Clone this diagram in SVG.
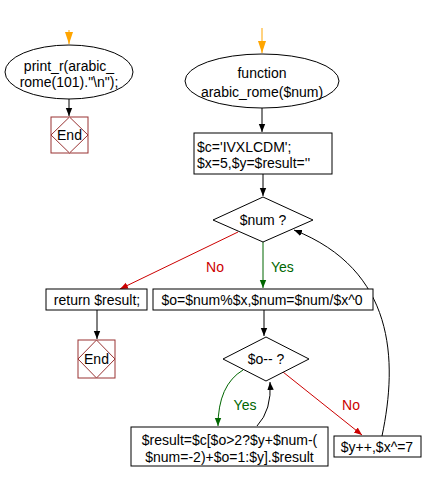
<svg xmlns="http://www.w3.org/2000/svg" width="422" height="481" viewBox="0 0 422 481">
<style>
.n{fill:#fff;stroke:#000;stroke-width:1}
.e{fill:#fff;stroke:#993333;stroke-width:1}
.t{font-family:"Liberation Sans",Arial,sans-serif;font-size:14px;fill:#000}
.m{text-anchor:middle}
.c{fill:none;stroke-width:1}
.k{stroke:#000}
.r{stroke:#CC0000}
.g{stroke:#006600}
.o{stroke:#FFA500}
.lr{fill:#CC0000}
.lg{fill:#006600}
</style>
<defs>
<marker id="ak" markerWidth="8" markerHeight="10" refX="10" refY="4" orient="auto" markerUnits="userSpaceOnUse" viewBox="0 0 10 8"><path d="M0,0 L10,4 L0,8 z" fill="#000"/></marker>
<marker id="ar" markerWidth="8" markerHeight="10" refX="10" refY="4" orient="auto" markerUnits="userSpaceOnUse" viewBox="0 0 10 8"><path d="M0,0 L10,4 L0,8 z" fill="#CC0000"/></marker>
<marker id="ag" markerWidth="8" markerHeight="10" refX="10" refY="4" orient="auto" markerUnits="userSpaceOnUse" viewBox="0 0 10 8"><path d="M0,0 L10,4 L0,8 z" fill="#006600"/></marker>
<marker id="ao" markerWidth="12" markerHeight="8" refX="12" refY="4" orient="auto" markerUnits="userSpaceOnUse" viewBox="0 0 12 8"><path d="M0,0 L12,4 L0,8 z" fill="#FFA500"/></marker>
</defs>
<g id="connectors">
<path class="c o" d="M69,30 L69,44" marker-end="url(#ao)"/>
<path class="c k" d="M69,99 L69,116" marker-end="url(#ak)"/>
<path class="c o" d="M262,28 L262,53" marker-end="url(#ao)"/>
<path class="c k" d="M262,108 L262,132" marker-end="url(#ak)"/>
<path class="c k" d="M263,174 L263,196" marker-end="url(#ak)"/>
<path class="c r" d="M238,232 L120,289" marker-end="url(#ar)"/>
<path class="c g" d="M263,242 L263,288" marker-end="url(#ag)"/>
<path class="c k" d="M97,310 L97,339" marker-end="url(#ak)"/>
<path class="c k" d="M264,310 L264,336" marker-end="url(#ak)"/>
<path class="c g" d="M243,370 Q218,385 218,426" marker-end="url(#ag)"/>
<path class="c k" d="M257,426 Q272,410 270,382" marker-end="url(#ak)"/>
<path class="c r" d="M283,372 L362,435" marker-end="url(#ar)"/>
<path class="c k" d="M382,436 C398,360 395,270 294,230" marker-end="url(#ak)"/>
<text class="t lr" x="215" y="272" text-anchor="middle">No</text>
<text class="t lg" x="271" y="272">Yes</text>
<text class="t lg" x="245" y="410" text-anchor="middle">Yes</text>
<text class="t lr" x="351" y="410" text-anchor="middle">No</text>
</g>
<g id="start1">
<ellipse class="n" cx="69" cy="72" rx="64" ry="27"/>
<text class="t m" x="69" y="71">print_r(arabic_</text>
<text class="t m" x="69" y="87">rome(101)."\n");</text>
</g>
<g id="end1">
<rect class="e" x="51" y="117" width="37" height="36"/>
<polygon class="e" points="69.5,117 88,135 69.5,153 51,135"/>
<text class="t m" x="69.5" y="140">End</text>
</g>
<g id="start2">
<ellipse class="n" cx="262" cy="81" rx="77" ry="27"/>
<text class="t m" x="262" y="78">function</text>
<text class="t m" x="262" y="97">arabic_rome($num)</text>
</g>
<g id="init">
<rect class="n" x="194" y="133" width="138" height="41"/>
<text class="t" x="197" y="152">$c='IVXLCDM';</text>
<text class="t" x="197" y="168">$x=5,$y=$result=''</text>
</g>
<g id="cond1">
<polygon class="n" points="263,197 313,220 263,242 213,220"/>
<text class="t m" x="263" y="225">$num ?</text>
</g>
<g id="ret">
<rect class="n" x="46" y="289" width="101" height="21"/>
<text class="t m" x="97" y="305">return $result;</text>
</g>
<g id="end2">
<rect class="e" x="78" y="340" width="37" height="38"/>
<polygon class="e" points="96.5,340 115,359 96.5,378 78,359"/>
<text class="t m" x="96.5" y="364">End</text>
</g>
<g id="step">
<rect class="n" x="153" y="289" width="220" height="21"/>
<text class="t m" x="262" y="305">$o=$num%$x,$num=$num/$x^0</text>
</g>
<g id="cond2">
<polygon class="n" points="266,337 309,359 266,381 223,359"/>
<text class="t m" x="266" y="364">$o-- ?</text>
</g>
<g id="res">
<rect class="n" x="131" y="427" width="197" height="39"/>
<text class="t m" x="229.5" y="445">$result=$c[$o&gt;2?$y+$num-(</text>
<text class="t m" x="229.5" y="462">$num=-2)+$o=1:$y].$result</text>
</g>
<g id="inc">
<rect class="n" x="334" y="436" width="87" height="21"/>
<text class="t m" x="377" y="452">$y++,$x^=7</text>
</g>
</svg>
